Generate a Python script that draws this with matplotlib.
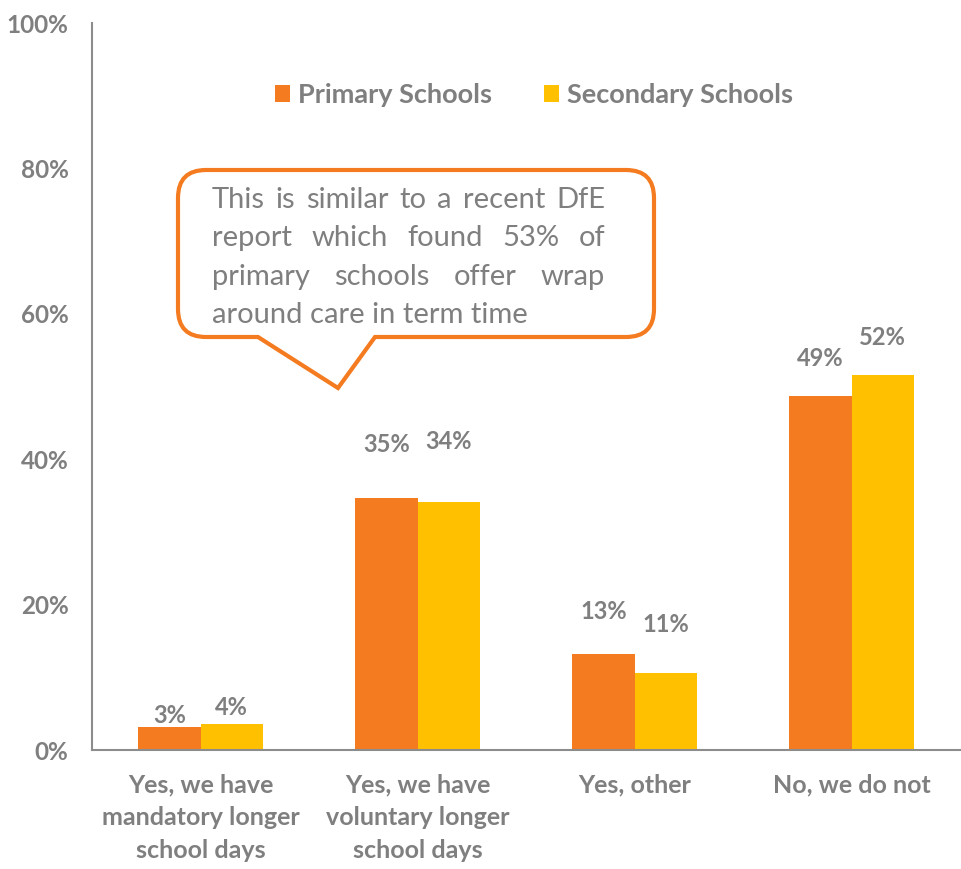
import numpy as np
import matplotlib.pyplot as plt
from matplotlib.path import Path
from matplotlib.patches import PathPatch

categories = ['Yes, we have\nmandatory longer\nschool days',
              'Yes, we have\nvoluntary longer\nschool days',
              'Yes, other',
              'No, we do not']
series_names = ['Primary Schools', 'Secondary Schools']
primary = [3.1, 34.7, 13.2, 48.7]
secondary = [3.6, 34.1, 10.6, 51.6]
y_ticks = [0, 20, 40, 60, 80, 100]
callout_lines = ['This is similar to a recent DfE',
                 'report which found 53% of',
                 'primary schools offer wrap',
                 'around care in term time']

# value labels were nudged by hand, so keep their heights separately
primary_label_y = [4.8, 42.0, 19.0, 53.8]
secondary_label_y = [5.9, 42.5, 17.3, 56.7]

ORANGE = '#F47B20'
YELLOW = '#FFC000'
GREY = '#7F7F7F'
W, H = 961, 869

plt.rcParams['font.family'] = ['Lato', 'DejaVu Sans']

fig = plt.figure(figsize=(W / 100, H / 100), dpi=100)
ax = fig.add_axes([92 / W, 1 - 750 / H, (960 - 92) / W, (750 - 23) / H])

x = np.arange(len(categories))
bw = 0.286
b1 = ax.bar(x - bw / 2, primary, bw, color=ORANGE, label=series_names[0])
b2 = ax.bar(x + bw / 2, secondary, bw, color=YELLOW, label=series_names[1])

for i in range(len(categories)):
    ax.text(x[i] - bw / 2, primary_label_y[i], '%.0f%%' % primary[i], ha='center', va='center',
            fontsize=17, fontweight='bold', color=GREY)
    ax.text(x[i] + bw / 2, secondary_label_y[i], '%.0f%%' % secondary[i], ha='center', va='center',
            fontsize=17, fontweight='bold', color=GREY)

ax.set_xlim(-0.5, 3.5)
ax.set_ylim(0, 100)
ax.set_yticks(y_ticks)
ax.set_yticklabels(['%d%%' % t for t in y_ticks], fontsize=17.5, fontweight='bold', color=GREY)
ax.set_xticks(x)
ax.set_xticklabels(categories, fontsize=18, fontweight='bold', color=GREY, linespacing=1.5)
ax.tick_params(axis='y', length=0, pad=17)
ax.tick_params(axis='x', length=0, pad=17)
for s in ['top', 'right']:
    ax.spines[s].set_visible(False)
for s in ['left', 'bottom']:
    ax.spines[s].set_color('#8C8C8C')
    ax.spines[s].set_linewidth(1.5)

ax.legend(handles=[b1, b2], labels=series_names, ncol=2, frameon=False,
          loc='center left', bbox_to_anchor=(251 / W, 1 - 95 / H), bbox_transform=fig.transFigure,
          prop={'size': 19.5, 'weight': 'bold'}, labelcolor=GREY,
          handlelength=0.55, handleheight=0.55, handletextpad=0.3, columnspacing=1.9)


def fp(px, py):
    return px / W, 1 - py / H


# speech bubble with a tail pointing down at the voluntary group
L, R, T, B, r = 178, 654, 170, 337, 28
pts = [(L + r, T), (R - r, T), (R, T), (R, T + r), (R, B - r), (R, B), (R - r, B),
       (375, B), (338, 388), (258, B), (L + r, B), (L, B), (L, B - r), (L, T + r), (L, T), (L + r, T), (L + r, T)]
codes = [Path.MOVETO, Path.LINETO, Path.CURVE3, Path.CURVE3, Path.LINETO, Path.CURVE3, Path.CURVE3,
         Path.LINETO, Path.LINETO, Path.LINETO, Path.LINETO, Path.CURVE3, Path.CURVE3, Path.LINETO,
         Path.CURVE3, Path.CURVE3, Path.CLOSEPOLY]
bubble = PathPatch(Path([fp(*p) for p in pts], codes), transform=fig.transFigure,
                   facecolor='white', edgecolor=ORANGE, lw=3, joinstyle='miter')
fig.add_artist(bubble)

# justified text inside the bubble
fig.canvas.draw()
rend = fig.canvas.get_renderer()
tx0, tx1 = 212, 605
baselines = [208, 246, 285, 323]
fs = 21
for k, line in enumerate(callout_lines):
    if k == len(callout_lines) - 1:
        fig.text(*fp(tx0, baselines[k]), line, fontsize=fs, color=GREY, va='baseline', ha='left')
        continue
    words = line.split()
    widths = []
    for wd in words:
        t = fig.text(0, 0, wd, fontsize=fs)
        widths.append(t.get_window_extent(rend).width)
        t.remove()
    gap = (tx1 - tx0 - sum(widths)) / (len(words) - 1)
    xp = tx0
    for wd, wdt in zip(words, widths):
        fig.text(*fp(xp, baselines[k]), wd, fontsize=fs, color=GREY, va='baseline', ha='left')
        xp += wdt + gap

fig.savefig('out.png', dpi=100)
